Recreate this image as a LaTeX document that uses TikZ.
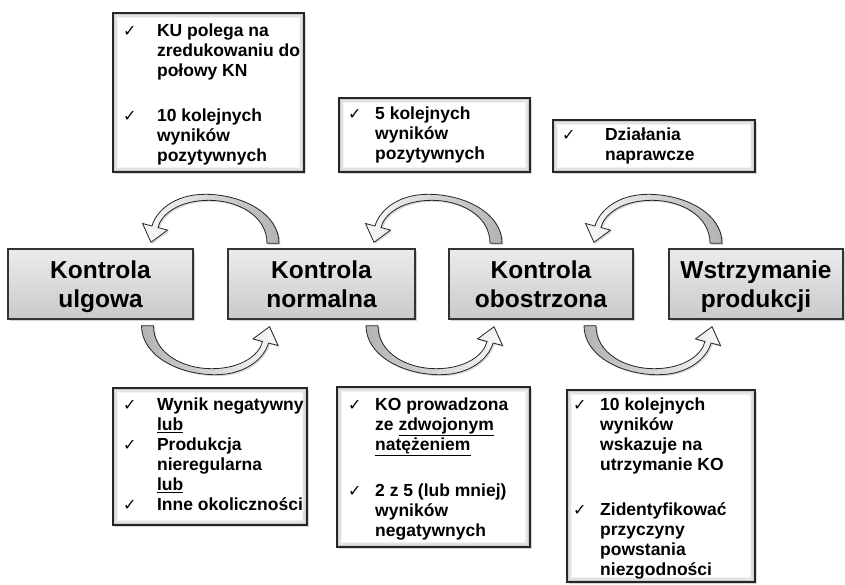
\documentclass[tikz,border=0pt]{standalone}
\usepackage{fontspec}
\setmainfont{Liberation Sans}
\newfontfamily\symfont{DejaVu Sans}
\usetikzlibrary{calc,shadows}

\newcommand{\chk}{{\symfont\fontsize{16}{16}\selectfont ✓}}
\newcommand{\cki}[1][27pt]{\rule{0pt}{15pt}\makebox[#1][l]{\chk}}
\newcommand{\ckn}[1][27pt]{\hspace*{#1}}
\newcommand{\stagetop}{\rule{0pt}{24pt}}
\newcommand{\stagebot}{\rule[-7pt]{0pt}{7pt}}

% curved block arrow, drawn around its own origin
\newcommand{\cyclearrow}[1]{%
  \draw[arrowbody,#1] (67,0) .. controls (67,-30) and (30,-49) .. (-7,-49)
    .. controls (-38,-49) and (-56,-32) .. (-60,-17.3)
    -- (-69.5,-19.8) -- (-61,-1) -- (-44.5,-13.2) -- (-54,-15.8)
    .. controls (-51,-29) and (-33,-43) .. (-3,-43)
    .. controls (25,-43) and (55,-28) .. (55,0) -- cycle;}

\tikzset{
  stagebox/.style={draw=black!80, line width=1.4pt, top color=gray!15, bottom color=gray!42,
    minimum height=70pt, inner sep=0pt, align=center,
    font=\fontsize{24.5}{29}\selectfont\bfseries,
    drop shadow={shadow xshift=2pt, shadow yshift=-2pt, opacity=0.35}},
  notebox/.style={draw=black!85, line width=1.4pt, fill=white, inner sep=0pt,
    drop shadow={shadow xshift=2pt, shadow yshift=-2pt, opacity=0.3},
    path picture={
      \foreach \k/\c in {1.5/40,3/22,4.5/10}
        \draw[gray!\c, line width=1.5pt]
          ([shift={(\k pt,-\k pt)}]path picture bounding box.north west) rectangle
          ([shift={(-\k pt,\k pt)}]path picture bounding box.south east);}},
  notetext/.style={anchor=north west, align=left, inner sep=0pt,
    font=\fontsize{17.5}{20}\selectfont\bfseries},
  arrowbody/.style={draw=black!85, line width=0.8pt,
    drop shadow={shadow xshift=1.5pt, shadow yshift=-1.5pt, opacity=0.3}},
}

\begin{document}
\begin{tikzpicture}[x=1pt, y=-1pt]
  \fill[white] (0,0) rectangle (845,584);
  \useasboundingbox (0,0) rectangle (845,584);

  % stages
  \node[stagebox, minimum width=185pt] (k1) at (100.5,284) {\stagetop Kontrola\\ulgowa\stagebot};
  \node[stagebox, minimum width=187pt] (k2) at (321.5,284) {\stagetop Kontrola\\normalna\stagebot};
  \node[stagebox, minimum width=184pt] (k3) at (541,284) {\stagetop Kontrola\\obostrzona\stagebot};
  \node[stagebox, minimum width=174pt] (k4) at (756,284) {\stagetop Wstrzymanie\\produkcji\stagebot};

  % upper notes
  \node[notebox, minimum width=191pt, minimum height=159pt] (nA) at (208.5,92.5) {};
  \node[notetext] (tA) at (123,21) {\cki[29pt] KU polega na\\ \ckn[29pt] zredukowaniu do\\ \ckn[29pt] połowy KN\\[25pt]
    \cki[29pt] 10 kolejnych\\ \ckn[29pt] wyników\\ \ckn[29pt] pozytywnych};
  \node[notebox, minimum width=191pt, minimum height=74pt] (nB) at (434.5,135) {};
  \node[notetext] (tB) at (348,104) {\cki 5 kolejnych\\ \ckn wyników\\ \ckn pozytywnych};
  \node[notebox, minimum width=202pt, minimum height=52pt] (nC) at (654,146) {};
  \node[notetext] (tC) at (562,125) {\cki[38pt] Działania\\ \ckn[38pt] naprawcze};

  % lower notes
  \node[notebox, minimum width=194pt, minimum height=137pt] (nD) at (210,456.5) {};
  \node[notetext] (tD) at (123,395) {\cki[29pt] Wynik negatywny\\ \ckn[29pt] \underline{lub}\\ \cki[29pt] Produkcja\\
    \ckn[29pt] nieregularna\\ \ckn[29pt] \underline{lub}\\ \cki[29pt] Inne okoliczności};
  \node[notebox, minimum width=193pt, minimum height=160pt] (nE) at (433.5,467) {};
  \node[notetext] (tE) at (348,395) {\cki KO prowadzona\\ \ckn ze \underline{zdwojonym}\\
    \ckn \underline{natężeniem}\\[25pt] \cki 2 z 5 (lub mniej)\\ \ckn wyników\\ \ckn negatywnych};
  \node[notebox, minimum width=188pt, minimum height=192pt] (nF) at (661,486) {};
  \node[notetext] (tF) at (573,395) {\cki 10 kolejnych\\ \ckn wyników\\ \ckn wskazuje na\\
    \ckn utrzymanie KO\\[25pt] \cki Zidentyfikować\\ \ckn przyczyny\\ \ckn powstania\\
    \ckn niezgodności};

  % arrows back (top) and forward (bottom)
  \cyclearrow{shift={($(k1.north east)!0.5!(k2.north west)+(1.5,-5)$)}, left color=gray!5, right color=gray!60}
  \cyclearrow{shift={($(k2.north east)!0.5!(k3.north west)+(3,-5)$)}, left color=gray!5, right color=gray!60}
  \cyclearrow{shift={($(k3.north east)!0.5!(k4.north west)+(4,-5)$)}, left color=gray!5, right color=gray!60}
  \cyclearrow{shift={($(k1.south east)!0.5!(k2.south west)+(-2,6)$)}, rotate=180, left color=gray!60, right color=gray!5}
  \cyclearrow{shift={($(k2.south east)!0.5!(k3.south west)+(1,6)$)}, rotate=180, left color=gray!60, right color=gray!5}
  \cyclearrow{shift={($(k3.south east)!0.5!(k4.south west)+(0,6)$)}, rotate=180, left color=gray!60, right color=gray!5}
\end{tikzpicture}
\end{document}
